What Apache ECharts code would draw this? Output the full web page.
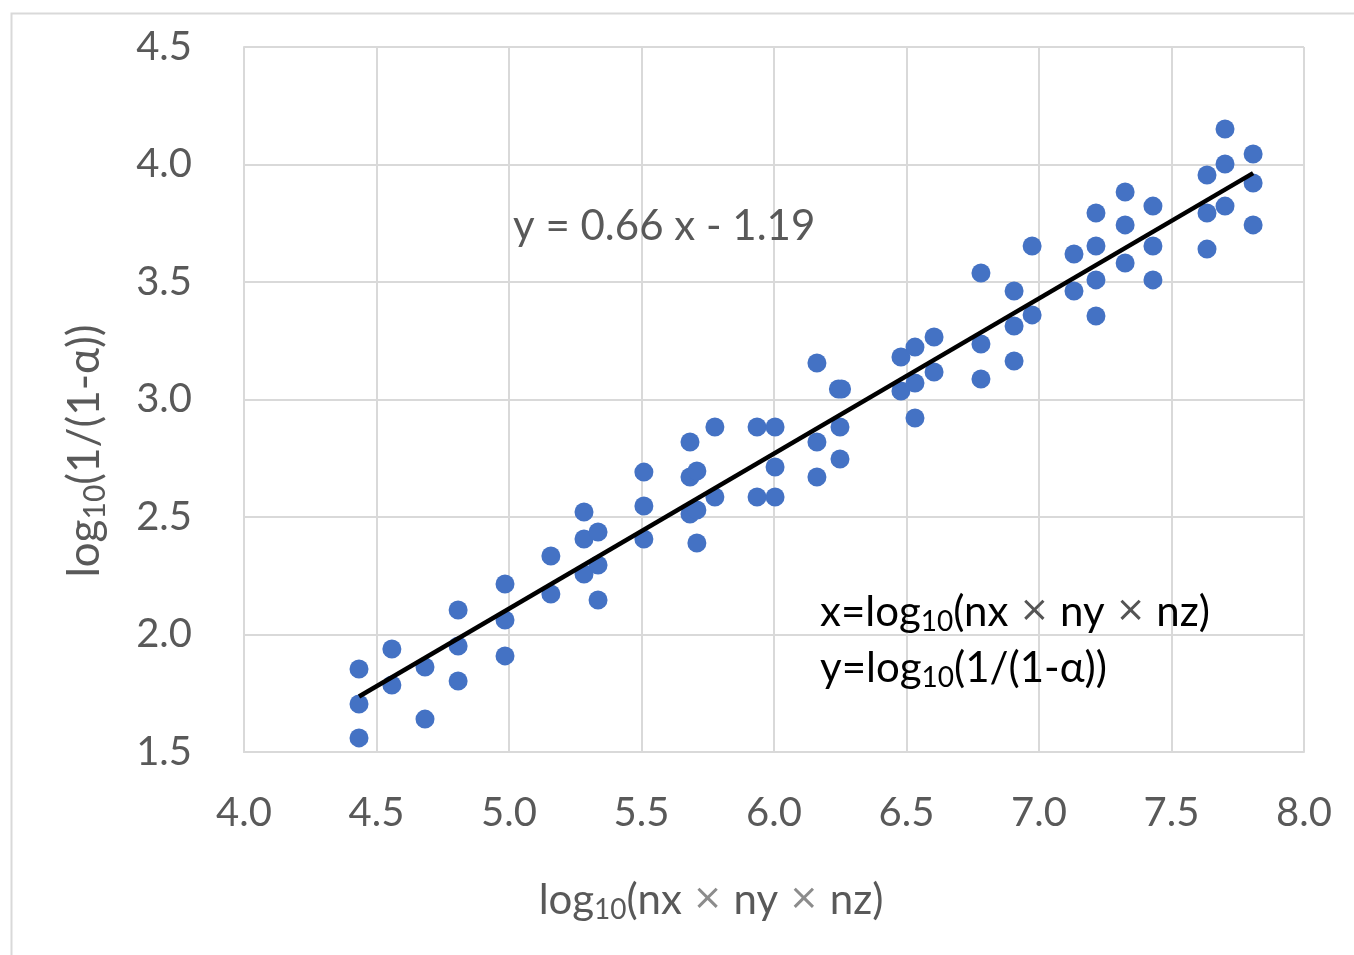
<!DOCTYPE html>
<html>
<head>
<meta charset="utf-8">
<script src="https://cdn.jsdelivr.net/npm/echarts@6/dist/echarts.min.js"></script>
<style>
html,body{margin:0;padding:0;background:#fff;}
#chart{width:1354px;height:955px;}
</style>
</head>
<body>
<div id="chart"></div>
<script>
// Data
const xValues = [
  4.434,4.434,4.434,
  4.558,4.558,
  4.683,4.683,
  4.808,4.808,4.808,
  4.985,4.985,4.985,
  5.158,5.158,
  5.283,5.283,5.283,
  5.336,5.336,5.336,
  5.509,5.509,5.509,
  5.683,5.683,5.683,
  5.709,5.709,5.709,
  5.777,5.777,
  5.936,5.936,
  6.004,6.004,6.004,
  6.162,6.162,6.162,
  6.243,6.255,6.249,6.249,
  6.479,6.479,
  6.532,6.532,6.532,
  6.604,6.604,
  6.781,6.781,6.781,
  6.906,6.906,6.906,
  6.974,6.974,
  7.132,7.132,
  7.215,7.215,7.215,7.215,
  7.325,7.325,7.325,
  7.430,7.430,7.430,
  7.634,7.634,7.634,
  7.702,7.702,7.702,
  7.808,7.808,7.808
];
const yValues = [
  1.853,1.704,1.560,
  1.938,1.785,
  1.862,1.640,
  2.104,1.951,1.802,
  2.215,2.062,1.909,
  2.334,2.172,
  2.521,2.406,2.257,
  2.436,2.296,2.147,
  2.691,2.547,2.406,
  2.819,2.670,2.513,
  2.696,2.530,2.389,
  2.883,2.585,
  2.883,2.585,
  2.883,2.713,2.585,
  3.155,2.819,2.670,
  3.045,3.045,2.883,2.747,
  3.181,3.036,
  3.223,3.070,2.921,
  3.266,3.117,
  3.538,3.236,3.087,
  3.462,3.313,3.164,
  3.653,3.360,
  3.619,3.462,
  3.794,3.653,3.509,3.355,
  3.883,3.743,3.581,
  3.823,3.653,3.509,
  3.955,3.794,3.640,
  4.151,4.002,3.823,
  4.045,3.921,3.743
];
// Linear trendline y = slope*x + intercept
const trendSlope = 0.66;
const trendIntercept = -1.19;
const trendXRange = [4.434, 7.808];
const xTicks = ['4.0','4.5','5.0','5.5','6.0','6.5','7.0','7.5','8.0'];
const yTicks = ['1.5','2.0','2.5','3.0','3.5','4.0','4.5'];
const equationText = 'y = 0.66 x - 1.19';

const points = xValues.map((x, i) => [x, yValues[i]]);
const trendLine = trendXRange.map(x => [x, trendSlope * x + trendIntercept]);

const FONT = 'Lato, "Open Sans", sans-serif';
const GRAY = '#595959';
const GRID = '#d9d9d9';

const chart = echarts.init(document.getElementById('chart'));
chart.setOption({
  animation: false,
  backgroundColor: '#fff',
  grid: {left: 244, top: 47, width: 1060, height: 705, containLabel: false},
  xAxis: {
    type: 'value', min: 4, max: 8, interval: 0.5,
    axisLine: {show: true, lineStyle: {color: GRID, width: 2}},
    axisTick: {show: false},
    splitLine: {show: true, lineStyle: {color: GRID, width: 2}},
    axisLabel: {
      margin: 41, color: GRAY, fontFamily: FONT, fontSize: 40,
      formatter: (v) => xTicks[Math.round((v - 4) / 0.5)]
    }
  },
  yAxis: {
    type: 'value', min: 1.5, max: 4.5, interval: 0.5,
    axisLine: {show: true, lineStyle: {color: GRID, width: 2}},
    axisTick: {show: false},
    splitLine: {show: true, lineStyle: {color: GRID, width: 2}},
    axisLabel: {
      margin: 52, color: GRAY, fontFamily: FONT, fontSize: 40,
      formatter: (v) => yTicks[Math.round((v - 1.5) / 0.5)]
    }
  },
  series: [
    {
      type: 'scatter', data: points, symbol: 'circle', symbolSize: 19,
      itemStyle: {color: '#4472C4', opacity: 1}, z: 2
    },
    {
      type: 'line', data: trendLine, symbol: 'none',
      lineStyle: {color: '#000', width: 4.5}, z: 3
    }
  ],
  graphic: [
    {
      type: 'rect', left: 9, top: 11, silent: true, z: -1,
      shape: {x: 0, y: 0, width: 1360, height: 960},
      style: {fill: 'none', stroke: GRID, lineWidth: 2}
    },
    {
      type: 'text', left: 513, top: 205, z: 10,
      style: {text: equationText, fill: GRAY, font: '42px ' + FONT}
    },
    {
      type: 'text', x: 711, y: 900, z: 10,
      style: {
        text: '{a|log}{s|10}{a|(nx }{m|×}{a| ny }{m|×}{a| nz)}',
        align: 'center', verticalAlign: 'middle',
        rich: {
          a: {fontSize: 42, fontFamily: FONT, fill: GRAY, color: GRAY},
          s: {fontSize: 28, fontFamily: FONT, fill: GRAY, color: GRAY, padding: [20, 0, 0, 0]},
          m: {fontSize: 36, fontFamily: 'DejaVu Sans', fill: '#8c8c8c', color: '#8c8c8c'}
        }
      }
    },
    {
      type: 'text', x: 85, y: 451, rotation: Math.PI / 2, z: 10,
      style: {
        text: '{a|log}{s|10}{a|(1/(1-α))}',
        align: 'center', verticalAlign: 'middle',
        rich: {
          a: {fontSize: 44, fontFamily: FONT, fill: GRAY, color: GRAY},
          s: {fontSize: 30, fontFamily: FONT, fill: GRAY, color: GRAY, padding: [20, 0, 0, 0]}
        }
      }
    },
    {
      type: 'text', left: 820, top: 591, z: 10,
      style: {
        text: '{a|x=log}{s|10}{a|(nx }{m|×}{a| ny }{m|×}{a| nz)}',
        rich: {
          a: {fontSize: 42, fontFamily: FONT, fill: '#000', color: '#000'},
          s: {fontSize: 28, fontFamily: FONT, fill: '#000', color: '#000', padding: [20, 0, 0, 0]},
          m: {fontSize: 36, fontFamily: 'DejaVu Sans', fill: '#555', color: '#555'}
        }
      }
    },
    {
      type: 'text', left: 820, top: 647, z: 10,
      style: {
        text: '{a|y=log}{s|10}{a|(1/(1-α))}',
        rich: {
          a: {fontSize: 42, fontFamily: FONT, fill: '#000', color: '#000'},
          s: {fontSize: 28, fontFamily: FONT, fill: '#000', color: '#000', padding: [20, 0, 0, 0]}
        }
      }
    }
  ]
});
</script>
</body>
</html>
